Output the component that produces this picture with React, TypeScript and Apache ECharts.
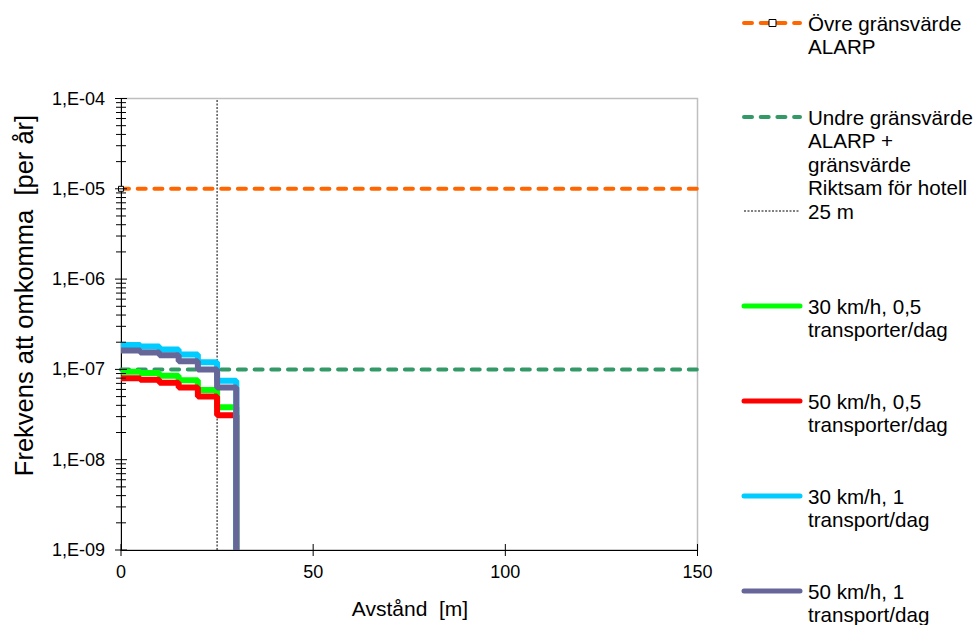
import React, { useEffect, useRef } from 'react';
import * as echarts from 'echarts';

// ---- data ----
const X_STEPS = [0, 5, 10, 15, 20, 25];
const X_END = 30;
const FLOOR = 1e-9;
const GREEN_30_05 = [9.4e-8, 9.1e-8, 8.5e-8, 7.6e-8, 5.9e-8, 3.8e-8];
const RED_50_05 = [8.0e-8, 7.7e-8, 7.1e-8, 6.3e-8, 5.0e-8, 3.1e-8];
const CYAN_30_1 = [1.86e-7, 1.79e-7, 1.66e-7, 1.46e-7, 1.2e-7, 7.5e-8];
const PURPLE_50_1 = [1.62e-7, 1.54e-7, 1.43e-7, 1.23e-7, 1.0e-7, 6.3e-8];
const UPPER_LIMIT = 1e-5;
const LOWER_LIMIT = 1e-7;
const MARKER_X = 25;
const X_MIN = 0;
const X_MAX = 150;
const X_TICKS = [0, 50, 100, 150];
const Y_MIN = 1e-9;
const Y_MAX = 1e-4;
const Y_DECADES = [-9, -8, -7, -6, -5, -4];
const MINOR_MULT = [2, 3, 4, 5, 6, 7, 8, 9];

const NAME_UPPER = 'Övre gränsvärde\nALARP';
const NAME_LOWER = 'Undre gränsvärde\nALARP +\ngränsvärde\nRiktsam för hotell';
const NAME_MARKER = '25 m';
const NAMES = [
  '30 km/h, 0,5\ntransporter/dag',
  '50 km/h, 0,5\ntransporter/dag',
  '30 km/h, 1\ntransport/dag',
  '50 km/h, 1\ntransport/dag',
];
const COLORS = ['#00FF00', '#FF0000', '#00CCFF', '#666699'];
const STEP_VALUES = [GREEN_30_05, RED_50_05, CYAN_30_1, PURPLE_50_1];
const X_TITLE = 'Avstånd  [m]';
const Y_TITLE = 'Frekvens att omkomma  [per år]';

const FONT = '"Liberation Sans", Arial, Helvetica, sans-serif';

function stepData(vals: number[]) {
  const pts: number[][] = X_STEPS.map((x, i) => [x, vals[i]]);
  pts.push([X_END, FLOOR]);
  return pts;
}

function yLabel(v: number) {
  const e = Math.round(Math.log10(v));
  return '1,E-' + String(-e).padStart(2, '0');
}

export default function App() {
  const ref = useRef<HTMLDivElement>(null);
  useEffect(() => {
    if (!ref.current) return;
    const chart = echarts.init(ref.current, undefined, { renderer: 'svg' });

    const tickData: number[][] = [];
    Y_DECADES.forEach((e) => {
      tickData.push([X_MIN, Math.pow(10, e), 0]);
      if (e < -4) MINOR_MULT.forEach((m) => tickData.push([X_MIN, m * Math.pow(10, e), 1]));
    });
    X_TICKS.forEach((x) => tickData.push([x, Y_MIN, 2]));

    const dashStyle = (color: string) => ({
      color,
      width: 4,
      type: [8, 8.7] as any,
      cap: 'round' as any,
    });

    // legend graphics
    const legendYs = [23, 117, 211, 306, 401, 496, 591];
    const legendTexts = [NAME_UPPER, NAME_LOWER, NAME_MARKER, ...NAMES];
    const legendEls: any[] = [];
    legendTexts.forEach((t, i) => {
      const cy = legendYs[i];
      let lineStyle: any;
      if (i === 0) lineStyle = { stroke: '#FF6600', lineWidth: 4, lineDash: [8, 8.7], lineCap: 'round' };
      else if (i === 1) lineStyle = { stroke: '#339966', lineWidth: 4, lineDash: [8, 8.7], lineCap: 'round' };
      else if (i === 2) lineStyle = { stroke: '#000', lineWidth: 1, lineDash: [2, 1.5] };
      else lineStyle = { stroke: COLORS[i - 3], lineWidth: 5, lineCap: 'round' };
      legendEls.push({
        type: 'line',
        shape: { x1: 744, y1: cy, x2: 800, y2: cy },
        style: lineStyle,
      });
      if (i === 0) {
        legendEls.push({
          type: 'rect',
          shape: { x: 769, y: cy - 3.5, width: 7, height: 7 },
          style: { fill: '#fff', stroke: '#000', lineWidth: 1 },
        });
      }
      legendEls.push({
        type: 'text',
        x: 808,
        y: cy - 11.75,
        style: {
          text: t,
          font: '20.6px ' + FONT,
          lineHeight: 23.5,
          fill: '#000',
          align: 'left',
          textAlign: 'left',
          verticalAlign: 'top',
          textVerticalAlign: 'top',
        },
      });
    });

    const option: any = {
      animation: false,
      backgroundColor: '#fff',
      textStyle: { fontFamily: FONT },
      grid: {
        left: 121,
        right: 282.5,
        top: 98.5,
        bottom: 75,
        show: true,
        borderColor: '#BFBFBF',
        borderWidth: 1.5,
        backgroundColor: 'transparent',
        containLabel: false,
        outerBoundsMode: 'none',
      },
      xAxis: {
        type: 'value',
        min: X_MIN,
        max: X_MAX,
        interval: 50,
        axisLine: { show: true, lineStyle: { color: '#000', width: 1 } },
        axisTick: { show: false },
        splitLine: { show: false },
        axisLabel: { color: '#000', fontSize: 18, fontFamily: FONT, margin: 13 },
      },
      yAxis: {
        type: 'log',
        logBase: 10,
        min: Y_MIN,
        max: Y_MAX,
        splitNumber: 5,
        axisLine: { show: true, lineStyle: { color: '#000', width: 1 } },
        axisTick: { show: false },
        minorTick: { show: false },
        splitLine: { show: false },
        axisLabel: { color: '#000', fontSize: 18, fontFamily: FONT, margin: 16, formatter: yLabel },
      },
      graphic: [
        {
          type: 'text',
          x: 410,
          y: 608,
          style: {
            text: X_TITLE,
            font: '21px ' + FONT,
            fill: '#000',
            align: 'center',
            textAlign: 'center',
            verticalAlign: 'middle',
            textVerticalAlign: 'middle',
          },
        },
        {
          type: 'text',
          x: 24,
          y: 295.5,
          rotation: Math.PI / 2,
          style: {
            text: Y_TITLE,
            font: '25.5px ' + FONT,
            fill: '#000',
            align: 'center',
            textAlign: 'center',
            verticalAlign: 'middle',
            textVerticalAlign: 'middle',
          },
        },
        ...legendEls,
      ],
      series: [
        {
          name: 'upper',
          type: 'line',
          symbol: 'none',
          showSymbol: true,
          data: [
            {
              value: [X_MIN, UPPER_LIMIT],
              symbol: 'rect',
              symbolSize: 5,
              itemStyle: { color: '#fff', borderColor: '#000', borderWidth: 1 },
            },
            { value: [X_MAX, UPPER_LIMIT] },
          ],
          lineStyle: dashStyle('#FF6600'),
          silent: true,
          z: 2,
        },
        {
          name: 'lower',
          type: 'line',
          symbol: 'none',
          data: [
            [X_MIN, LOWER_LIMIT],
            [X_MAX, LOWER_LIMIT],
          ],
          lineStyle: dashStyle('#339966'),
          silent: true,
          z: 2,
        },
        {
          name: 'marker',
          type: 'line',
          symbol: 'none',
          data: [
            [MARKER_X, Y_MIN],
            [MARKER_X, Y_MAX],
          ],
          lineStyle: { color: '#000', width: 1, type: [2, 1.5] },
          silent: true,
          z: 2,
        },
        ...STEP_VALUES.map((vals, i) => ({
          name: NAMES[i],
          type: 'line',
          step: 'end',
          symbol: 'none',
          data: stepData(vals),
          lineStyle: { color: COLORS[i], width: 6 },
          silent: true,
          z: 3,
        })),
        {
          name: 'ticks',
          type: 'custom',
          silent: true,
          clip: false,
          z: 5,
          data: tickData,
          encode: { x: 0, y: 1 },
          renderItem: (params: any, api: any) => {
            const kind = api.value(2);
            const p = api.coord([api.value(0), api.value(1)]);
            if (kind === 2) {
              return {
                type: 'line',
                shape: { x1: p[0], y1: p[1] - 6, x2: p[0], y2: p[1] + 6 },
                style: { stroke: '#000', lineWidth: 1 },
              };
            }
            const h = kind === 0 ? 6 : 5;
            return {
              type: 'line',
              shape: { x1: p[0] - h, y1: p[1], x2: p[0] + h, y2: p[1] },
              style: { stroke: '#000', lineWidth: 1 },
            };
          },
        },
      ],
    };
    chart.setOption(option);
    return () => chart.dispose();
  }, []);
  return (
    <div
      ref={ref}
      style={{ position: 'absolute', left: 0, top: 0, width: 980, height: 625, background: '#fff' }}
    />
  );
}
